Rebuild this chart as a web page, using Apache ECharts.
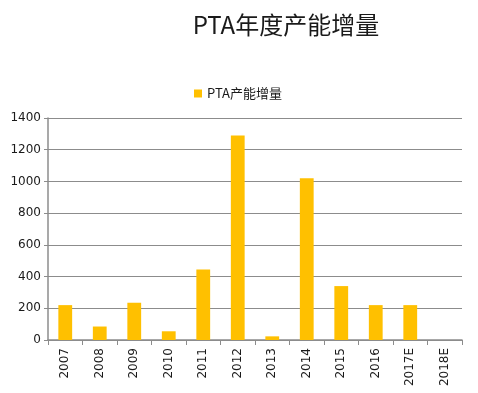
<!DOCTYPE html>
<html><head><meta charset="utf-8">
<script src="https://cdn.jsdelivr.net/npm/echarts@6/dist/echarts.min.js"></script>
<style>html,body{margin:0;padding:0;background:#fff}#c{width:478px;height:393px}</style>
</head><body><div id="c"></div>
<script>
const categories = ['2007','2008','2009','2010','2011','2012','2013','2014','2015','2016','2017E','2018E'];
const values = [220, 85, 235, 55, 445, 1290, 23, 1020, 340, 220, 220, 0];
const yTicks = [0, 200, 400, 600, 800, 1000, 1200, 1400];
const seriesName = 'PTA产能增量';
const titleText = 'PTA年度产能增量';
const font = '"Noto Sans CJK SC", "Open Sans", sans-serif';
const numFont = '"DejaVu Sans", "Noto Sans", sans-serif';
const chart = echarts.init(document.getElementById('c'));
chart.setOption({
  animation: false,
  backgroundColor: '#fff',
  title: { text: titleText, left: 281, top: 8, textAlign: 'center',
    textStyle: { fontFamily: font, fontSize: 24, fontWeight: 'normal', color: '#1a1a1a' } },
  legend: { data: [seriesName], left: 189, top: 82, icon: 'rect', itemWidth: 8, itemHeight: 8, itemGap: 6,
    textStyle: { fontFamily: font, fontSize: 13, color: '#1a1a1a' } },
  grid: { left: 48, right: 16, top: 118, bottom: 53, containLabel: false },
  xAxis: { type: 'category', data: categories,
    axisLine: { lineStyle: { color: '#8c8c8c', width: 1.5 } },
    axisTick: { show: true, length: 5, lineStyle: { color: '#8c8c8c' } },
    axisLabel: { rotate: 90, fontFamily: numFont, fontSize: 12, color: '#1a1a1a', margin: 8 } },
  yAxis: { type: 'value', min: yTicks[0], max: yTicks[yTicks.length-1], interval: 200,
    axisLine: { show: true, lineStyle: { color: '#8c8c8c', width: 1.5 } },
    axisTick: { show: true, length: 4, lineStyle: { color: '#8c8c8c' } },
    splitLine: { lineStyle: { color: '#8c8c8c', width: 1.2 } },
    axisLabel: { fontFamily: numFont, fontSize: 12, color: '#1a1a1a', margin: 7,
      formatter: v => String(v) } },
  series: [{ name: seriesName, type: 'bar', data: values, barWidth: '40%',
    itemStyle: { color: '#FFC000' } }]
});
</script></body></html>
